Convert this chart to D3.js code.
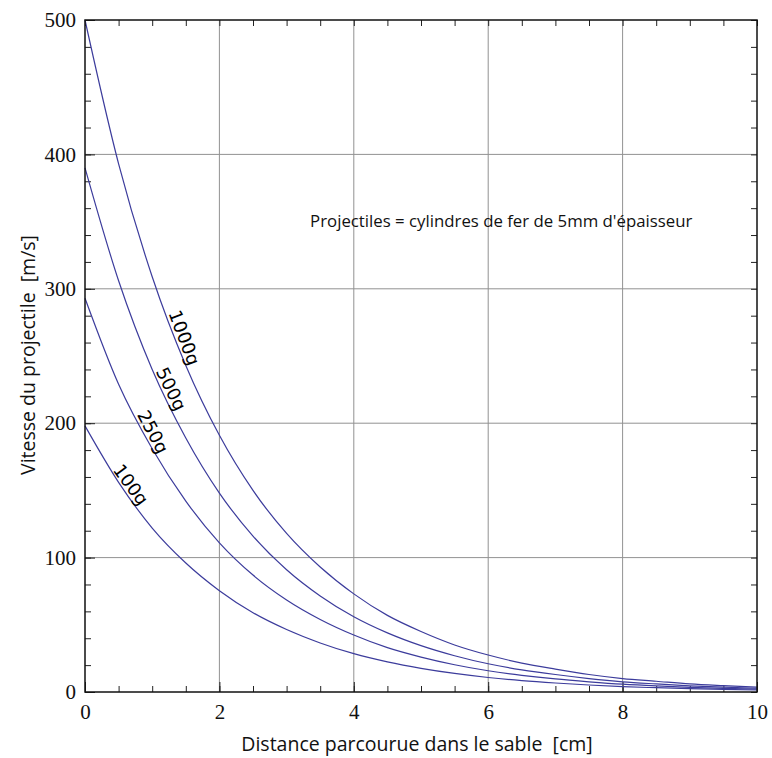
<!DOCTYPE html>
<html>
<head>
<meta charset="utf-8">
<script src="https://cdnjs.cloudflare.com/ajax/libs/d3/7.8.5/d3.min.js"></script>
<style>
  body { margin: 0; background: #fff; }
  svg { display: block; }
  .title { white-space: pre; }
</style>
</head>
<body>
<script>
// Distances (cm) where the curves were read
const distances = [0, 0.5, 1, 1.5, 2, 2.5, 3, 3.5, 4, 4.5, 5, 5.5, 6, 6.5, 7, 7.5, 8, 8.5, 9, 9.5, 10];

// Speed (m/s) for each projectile mass
const v1000 = [500, 393, 309, 243, 191, 150, 118, 93, 73, 57, 45, 35, 27.5, 21.5, 17, 13, 10, 8, 6, 4.7, 3.6];
const v500  = [390, 306, 240, 189, 148, 116, 91, 71.5, 56, 44, 34.5, 27, 21, 16.5, 13, 10, 7.6, 6, 4.6, 3.6, 2.8];
const v250  = [293, 229, 181, 142, 111, 87, 68.5, 54, 42.4, 33, 26, 20.3, 15.8, 12.4, 9.7, 7.6, 5.8, 4.5, 3.5, 2.7, 2.1];
const v100  = [198, 156, 122, 96, 75.4, 59, 46.5, 36.5, 28.5, 22.4, 17.6, 13.8, 10.8, 8.5, 6.7, 5.2, 4, 3.2, 2.5, 1.9, 1.5];

const seriesNames = ["1000g", "500g", "250g", "100g"];
const seriesValues = [v1000, v500, v250, v100];
// distance along each curve where its label sits
const labelAt = [1.36, 1.17, 0.9, 0.58];

const xTicks = [0, 2, 4, 6, 8, 10];
const yTicks = [0, 100, 200, 300, 400, 500];

const margin = { top: 20, right: 15, bottom: 66, left: 85 },
      width = 772 - margin.left - margin.right,
      height = 758 - margin.top - margin.bottom;

const svg = d3.select("body")
  .append("svg")
  .attr("width", 772)
  .attr("height", 758);

const g = svg.append("g")
  .attr("transform", `translate(${margin.left},${margin.top})`);

const x = d3.scaleLinear().domain([0, 10]).range([0, width]);
const y = d3.scaleLinear().domain([0, 500]).range([height, 0]);

// grid lines
g.selectAll(".vgrid")
  .data(xTicks.slice(1, -1))
  .enter()
  .append("line")
  .attr("x1", d => x(d)).attr("x2", d => x(d))
  .attr("y1", 0).attr("y2", height)
  .attr("stroke", "#929292").attr("stroke-width", 1);

g.selectAll(".hgrid")
  .data(yTicks.slice(1, -1))
  .enter()
  .append("line")
  .attr("x1", 0).attr("x2", width)
  .attr("y1", d => y(d)).attr("y2", d => y(d))
  .attr("stroke", "#929292").attr("stroke-width", 1);

// inner ticks on all four sides
const minorX = d3.range(0, 10.01, 0.5);
const minorY = d3.range(0, 500.1, 20);

function innerAxis(axisFn, scale, values, size, tr) {
  g.append("g")
    .attr("transform", tr)
    .call(axisFn(scale).tickValues(values).tickSize(size).tickFormat(""))
    .call(a => a.select(".domain").remove())
    .selectAll("line").attr("stroke", "#222");
}
innerAxis(d3.axisTop, x, minorX, 6, `translate(0,${height})`);
innerAxis(d3.axisBottom, x, minorX, 6, "translate(0,0)");
innerAxis(d3.axisRight, y, minorY, 6, "translate(0,0)");
innerAxis(d3.axisLeft, y, minorY, 6, `translate(${width},0)`);
innerAxis(d3.axisTop, x, xTicks, 10, `translate(0,${height})`);
innerAxis(d3.axisRight, y, yTicks, 10, "translate(0,0)");

// tick labels
g.append("g")
  .attr("transform", `translate(0,${height})`)
  .call(d3.axisBottom(x).tickValues(xTicks).tickSize(0).tickPadding(12))
  .call(a => a.select(".domain").remove())
  .selectAll("text")
  .style("font-family", "'Liberation Serif', 'Times New Roman', serif")
  .style("font-size", "21px")
  .attr("fill", "#111");

g.append("g")
  .call(d3.axisLeft(y).tickValues(yTicks).tickSize(0).tickPadding(9))
  .call(a => a.select(".domain").remove())
  .selectAll("text")
  .style("font-family", "'Liberation Serif', 'Times New Roman', serif")
  .style("font-size", "21px")
  .attr("fill", "#111");

// curves
const line = d3.line()
  .x(d => x(d[0]))
  .y(d => y(d[1]))
  .curve(d3.curveMonotoneX);

seriesValues.forEach(vals => {
  g.append("path")
    .datum(distances.map((d, i) => [d, vals[i]]))
    .attr("d", line)
    .attr("fill", "none")
    .attr("stroke", "#3c3c9c")
    .attr("stroke-width", 1.2);
});

// curve labels, rotated along the curve
seriesNames.forEach((name, k) => {
  const vals = seriesValues[k];
  const vAt = d => {
    const i = d3.bisectRight(distances, d) - 1;
    const t = (d - distances[i]) / (distances[i + 1] - distances[i]);
    return vals[i] + t * (vals[i + 1] - vals[i]);
  };
  const d0 = labelAt[k];
  const px = x(d0), py = y(vAt(d0));
  const dx = x(d0 + 0.05) - x(d0 - 0.05);
  const dy = y(vAt(d0 + 0.05)) - y(vAt(d0 - 0.05));
  const angle = Math.atan2(dy, dx) * 180 / Math.PI;
  g.append("text")
    .attr("transform", `translate(${px},${py}) rotate(${angle})`)
    .attr("text-anchor", "middle")
    .attr("dy", "-0.12em")
    .style("font-family", "'DejaVu Sans', sans-serif")
    .style("font-size", "18px")
    .attr("fill", "#000")
    .text(name);
});

// frame
g.append("rect")
  .attr("width", width).attr("height", height)
  .attr("fill", "none")
  .attr("stroke", "#111")
  .attr("stroke-width", 1.5);

// annotation
g.append("text")
  .attr("x", x(3.35))
  .attr("y", y(346))
  .style("font-family", "'Open Sans', sans-serif")
  .style("font-size", "16.8px")
  .attr("fill", "#111")
  .text("Projectiles = cylindres de fer de 5mm d'épaisseur");

// axis titles
svg.append("text")
  .attr("class", "title")
  .attr("x", 417)
  .attr("y", 751)
  .attr("text-anchor", "middle")
  .style("font-family", "'Open Sans', sans-serif")
  .style("font-size", "19.5px")
  .attr("fill", "#111")
  .text("Distance parcourue dans le sable  [cm]");

svg.append("text")
  .attr("class", "title")
  .attr("transform", "translate(35,355) rotate(-90)")
  .attr("text-anchor", "middle")
  .style("font-family", "'Open Sans', sans-serif")
  .style("font-size", "19.5px")
  .attr("fill", "#111")
  .text("Vitesse du projectile  [m/s]");
</script>
</body>
</html>
